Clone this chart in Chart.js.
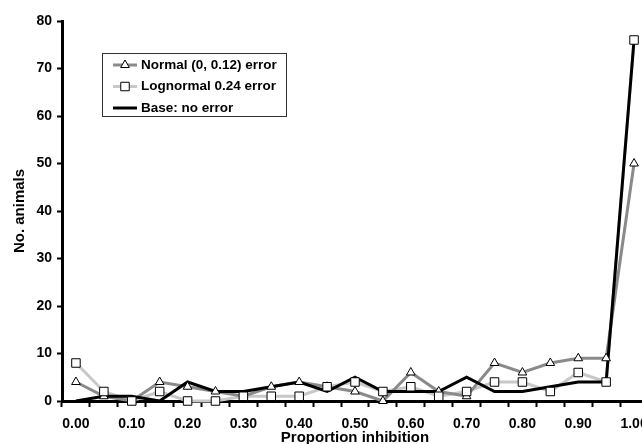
<!DOCTYPE html>
<html>
<head>
<meta charset="utf-8">
<script src="https://cdn.jsdelivr.net/npm/chart.js@4.4.1/dist/chart.umd.min.js"></script>
<style>
    html, body { margin: 0; padding: 0; background: #fff; overflow: hidden; }
    #wrap { width: 642px; height: 444px; overflow: hidden; }
    canvas { display: block; }
</style>
</head>
<body>
<div id="wrap"><canvas id="chart" width="660" height="452"></canvas></div>
<script>
// proportion inhibition categories (every other one gets a label)
const categories = ["0.00", "0.05", "0.10", "0.15", "0.20", "0.25", "0.30", "0.35", "0.40", "0.45",
    "0.50", "0.55", "0.60", "0.65", "0.70", "0.75", "0.80", "0.85", "0.90", "0.95", "1.00"];

// no. animals per category
const normalError    = [4, 1, 0, 4, 3, 2, 1, 3, 4, 3, 2, 0, 6, 2, 1, 8, 6, 8, 9, 9, 50];
const lognormalError = [8, 2, 0, 2, 0, 0, 1, 1, 1, 3, 4, 2, 3, 1, 2, 4, 4, 2, 6, 4, 76];
const baseNoError    = [0, 1, 1, 0, 4, 2, 2, 3, 4, 2, 5, 2, 2, 2, 5, 2, 2, 3, 4, 4, 76];

const seriesLabels = ["Normal (0, 0.12) error", "Lognormal 0.24 error", "Base: no error"];
const yMin = 0, yMax = 80, yStep = 10;

const FONT = "'Liberation Sans', Arial, sans-serif";
const normalColor = "#8a8a8a";
const lognormalColor = "#c8c8c8";
const baseColor = "#000000";

// legend drawn inside the plot, like the original
const insideLegend = {
    id: "insideLegend",
    afterDraw(chart) {
        const ctx = chart.ctx;
        const items = [
            { label: seriesLabels[0], color: normalColor, marker: "triangle", radius: 5 },
            { label: seriesLabels[1], color: lognormalColor, marker: "rect", radius: 6 },
            { label: seriesLabels[2], color: baseColor, marker: null }
        ];
        ctx.save();
        ctx.fillStyle = "#fff";
        ctx.fillRect(102.5, 53.5, 184, 63);
        ctx.strokeStyle = "#333";
        ctx.lineWidth = 1;
        ctx.strokeRect(102.5, 53.5, 184, 63);
        items.forEach((item, i) => {
            const y = 65 + i * 21.5;
            ctx.strokeStyle = item.color;
            ctx.lineWidth = 3;
            ctx.beginPath();
            ctx.moveTo(113, y);
            ctx.lineTo(137, y);
            ctx.stroke();
            if (item.marker) {
                ctx.fillStyle = "#fff";
                ctx.strokeStyle = "#000";
                ctx.lineWidth = 1;
                Chart.helpers.drawPoint(ctx, { pointStyle: item.marker, radius: item.radius, borderWidth: 1, rotation: 0 }, 125, y);
            }
            ctx.fillStyle = "#000";
            ctx.font = "bold 13.5px " + FONT;
            ctx.textBaseline = "middle";
            ctx.textAlign = "left";
            ctx.fillText(item.label, 141, y);
        });
        ctx.restore();
    }
};

const lineSet = (label, data, color, order) => ({
    label: label,
    data: data,
    borderColor: color,
    borderWidth: 3,
    pointRadius: 0,
    fill: false,
    tension: 0,
    clip: false,
    order: order
});

const markerSet = (data, style, radius) => ({
    data: data,
    showLine: false,
    pointStyle: style,
    pointRadius: radius,
    pointBackgroundColor: "#fff",
    pointBorderColor: "#000",
    pointBorderWidth: 1,
    clip: false,
    order: 0
});

new Chart(document.getElementById("chart").getContext("2d"), {
    type: "line",
    data: {
        labels: categories,
        datasets: [
            lineSet(seriesLabels[0], normalError, normalColor, 2),
            lineSet(seriesLabels[1], lognormalError, lognormalColor, 3),
            lineSet(seriesLabels[2], baseNoError, baseColor, 1),
            markerSet(lognormalError, "rect", 6),
            markerSet(normalError, "triangle", 5)
        ]
    },
    options: {
        responsive: false,
        animation: false,
        devicePixelRatio: 1,
        layout: { padding: { top: 21, right: 12, bottom: 7, left: 0 } },
        plugins: {
            legend: { display: false },
            tooltip: { enabled: false }
        },
        scales: {
            x: {
                type: "category",
                offset: true,
                afterFit: (scale) => { scale.height = 44; },
                grid: { offset: true, drawOnChartArea: false, drawTicks: true, tickLength: 6, tickWidth: 2, tickColor: "#000" },
                border: { display: true, color: "#000", width: 3 },
                ticks: {
                    autoSkip: false,
                    maxRotation: 0,
                    padding: 10.5,
                    color: "#000",
                    font: { family: FONT, size: 14, weight: "bold", lineHeight: 1 },
                    callback: (value, index) => index % 2 === 0 ? categories[index] : ""
                },
                title: {
                    display: true,
                    text: "Proportion inhibition",
                    color: "#000",
                    font: { family: FONT, size: 15, weight: "bold", lineHeight: 1 },
                    padding: { top: 0, bottom: 0 }
                }
            },
            y: {
                min: yMin,
                max: yMax,
                afterFit: (scale) => { scale.width = 62; },
                grid: { drawOnChartArea: false, drawTicks: true, tickLength: 5, tickWidth: 2, tickColor: "#000" },
                border: { display: true, color: "#000", width: 3 },
                ticks: {
                    stepSize: yStep,
                    padding: 5,
                    color: "#000",
                    font: { family: FONT, size: 14, weight: "bold", lineHeight: 1 }
                },
                title: {
                    display: true,
                    text: "No. animals",
                    color: "#000",
                    font: { family: FONT, size: 15, weight: "bold", lineHeight: 1 },
                    padding: { top: 12.5, bottom: 0 }
                }
            }
        }
    },
    plugins: [insideLegend]
});
</script>
</body>
</html>
